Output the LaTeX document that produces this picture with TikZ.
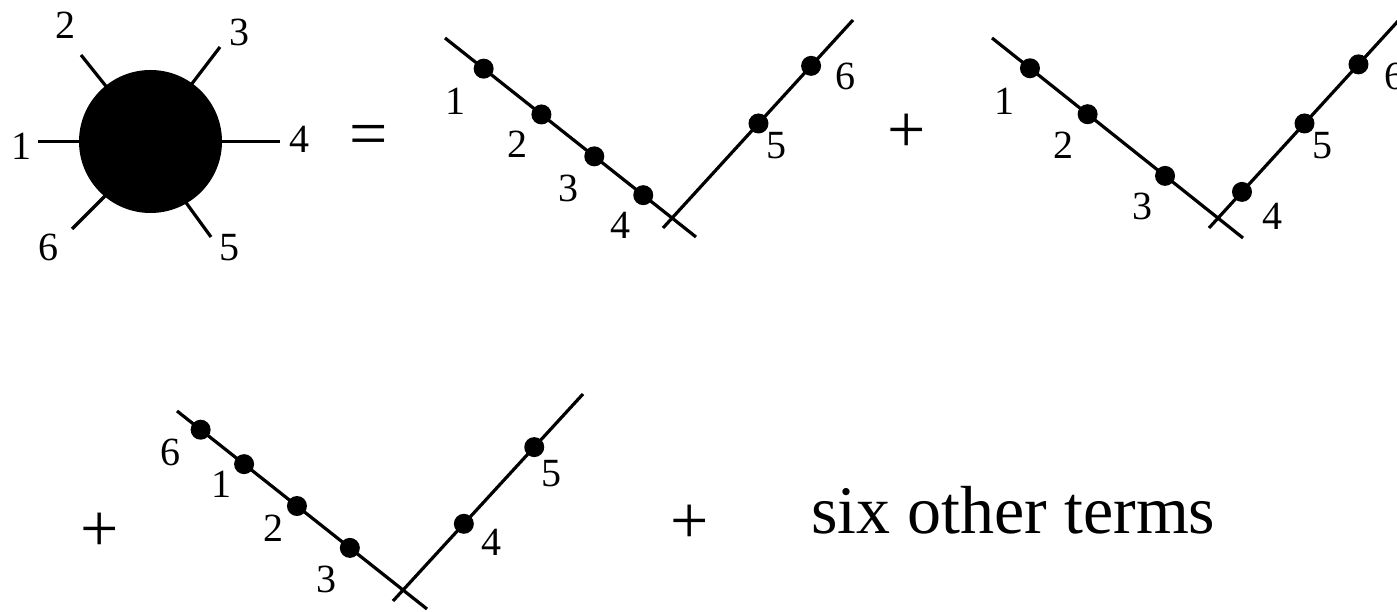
\documentclass[tikz,border=0pt]{standalone}
\usepackage{fontspec}
\setmainfont{Liberation Serif}
\usetikzlibrary{calc}
\begin{document}
\begin{tikzpicture}[x=1pt,y=-1pt,
  ln/.style={line width=3.2pt},
  dotn/.style={circle,fill=black,inner sep=0pt,minimum size=20pt},
  lab/.style={inner sep=0pt,font=\fontsize{40}{48}\selectfont},
  big/.style={inner sep=0pt,font=\fontsize{68}{80}\selectfont}]
\useasboundingbox (0,0) rectangle (1397,612);

% ---------- blob ----------
\node[circle,fill=black,inner sep=0pt,minimum size=143pt] (blob) at (150.5,141.5) {};
\coordinate (i1) at (79,141.7);  \coordinate (o1) at (38,141.7);
\coordinate (i2) at (105,85);    \coordinate (o2) at (81,55);
\coordinate (i3) at (194,81);    \coordinate (o3) at (220,47);
\coordinate (i4) at (222,141.7); \coordinate (o4) at (280,141.7);
\coordinate (i5) at (187,204);   \coordinate (o5) at (211,237);
\coordinate (i6) at (104,197);   \coordinate (o6) at (72,229);
\foreach \k in {1,...,6}{\draw[ln] ($(i\k)!-8pt!(o\k)$) -- (o\k);}
\node[lab] (b1) at (22,146) {1};
\node[lab] (b2) at (65,25) {2};
\node[lab] (b3) at (239,32) {3};
\node[lab] (b4) at (299,139) {4};
\node[lab] (b5) at (229,248) {5};
\node[lab] (b6) at (48,247) {6};

\node[big] (eq) at (369,141) {=};

% ---------- V1 ----------
\coordinate (a1) at (445,38);  \coordinate (e1) at (696,237);
\coordinate (c1) at (663,228); \coordinate (d1) at (853,20);
\draw[ln] (a1) -- (e1);
\draw[ln] (c1) -- (d1);
\node[dotn] (v1p1) at ($(a1)!(481,72)!(e1)$) {};
\node[dotn] (v1p2) at ($(a1)!(541,115)!(e1)$) {};
\node[dotn] (v1p3) at ($(a1)!(593,158)!(e1)$) {};
\node[dotn] (v1p4) at ($(a1)!(645,193)!(e1)$) {};
\node[dotn] (v1p5) at ($(c1)!(758,123)!(d1)$) {};
\node[dotn] (v1p6) at ($(c1)!(808,63)!(d1)$) {};
\node[lab] (v1l1) at (455,101) {1};
\node[lab] (v1l2) at (517,144) {2};
\node[lab] (v1l3) at (568,188) {3};
\node[lab] (v1l4) at (620,225) {4};
\node[lab] (v1l5) at (776,146) {5};
\node[lab] (v1l6) at (845,76) {6};

\node[big] (plus1) at (907,133) {+};

% ---------- V2 ----------
\coordinate (a2) at (992,38);   \coordinate (e2) at (1243,238);
\coordinate (c2) at (1209,228); \coordinate (d2) at (1399,20);
\draw[ln] (a2) -- (e2);
\draw[ln] (c2) -- (d2);
\node[dotn] (v2p1) at ($(a2)!(1027,72)!(e2)$) {};
\node[dotn] (v2p2) at ($(a2)!(1087,115)!(e2)$) {};
\node[dotn] (v2p3) at ($(a2)!(1165,176)!(e2)$) {};
\node[dotn] (v2p4) at ($(c2)!(1241,191)!(d2)$) {};
\node[dotn] (v2p5) at ($(c2)!(1304,123)!(d2)$) {};
\node[dotn] (v2p6) at ($(c2)!(1357,63)!(d2)$) {};
\node[lab] (v2l1) at (1004,101) {1};
\node[lab] (v2l2) at (1063,145) {2};
\node[lab] (v2l3) at (1142,206) {3};
\node[lab] (v2l4) at (1272,216) {4};
\node[lab] (v2l5) at (1322,146) {5};
\node[lab] (v2l6) at (1394,76) {6};

% ---------- second row ----------
\node[big] (plus2) at (100,532) {+};

\coordinate (a3) at (177,411); \coordinate (e3) at (427,609);
\coordinate (c3) at (393,601); \coordinate (d3) at (583,394);
\draw[ln] (a3) -- (e3);
\draw[ln] (c3) -- (d3);
\node[dotn] (v3p6) at ($(a3)!(202,428)!(e3)$) {};
\node[dotn] (v3p1) at ($(a3)!(245,463)!(e3)$) {};
\node[dotn] (v3p2) at ($(a3)!(297,506)!(e3)$) {};
\node[dotn] (v3p3) at ($(a3)!(349,549)!(e3)$) {};
\node[dotn] (v3p4) at ($(c3)!(463,523)!(d3)$) {};
\node[dotn] (v3p5) at ($(c3)!(532,445)!(d3)$) {};
\node[lab] (v3l6) at (170,452) {6};
\node[lab] (v3l1) at (221,484) {1};
\node[lab] (v3l2) at (273,528) {2};
\node[lab] (v3l3) at (326,579) {3};
\node[lab] (v3l4) at (491,542) {4};
\node[lab] (v3l5) at (551,474) {5};

\node[big] (plus3) at (690,524) {+};
\node[big,anchor=base west] (txt) at (811,533) {six other terms};
\end{tikzpicture}
\end{document}
